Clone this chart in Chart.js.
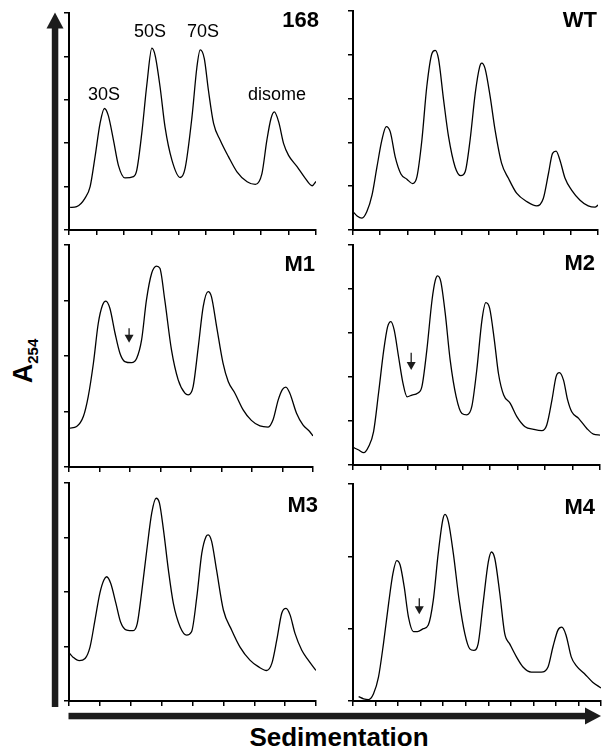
<!DOCTYPE html>
<html>
<head>
<meta charset="utf-8">
<script src="https://cdn.jsdelivr.net/npm/chart.js@4.4.1/dist/chart.umd.min.js"></script>
<style>
  body { margin: 0; background: #fff; }
  #fig { position: relative; width: 603px; height: 749px; overflow: hidden;
         font-family: "Liberation Sans", Arial, sans-serif; color: #000; }
  #fig canvas { position: absolute; }
  .lbl { position: absolute; white-space: nowrap; line-height: 1; }
  .ylab { position: absolute; white-space: nowrap; line-height: 1; font-weight: bold; font-size: 27px;
          transform: translate(-50%, -50%) rotate(-90deg); }
  .ylab span { font-size: 15px; vertical-align: -6px; }
</style>
</head>
<body>
<div id="fig">
  <svg width="603" height="749" style="position:absolute;left:0;top:0">
    <rect x="51.8" y="27" width="6.5" height="680" fill="#1c1c1c"/>
    <polygon points="46.5,28.5 55,12.5 63.5,28.5" fill="#1c1c1c"/>
    <rect x="68.5" y="712.8" width="518" height="6.5" fill="#1c1c1c"/>
    <polygon points="585,707.5 601,716 585,724.5" fill="#1c1c1c"/>
  </svg>
</div>
<script>
// sedimentation position (axis ticks) and A254 (axis ticks)
const x168 = [0.04, 0.28, 0.58, 0.77, 0.95, 1.13, 1.29, 1.43, 1.62, 1.80, 2.04, 2.35, 2.47, 2.65, 2.84, 3.02, 3.14, 3.32, 3.50, 3.75, 4.05, 4.23, 4.48, 4.66, 4.78, 4.93, 5.08, 5.27, 5.51, 5.81, 6.12, 6.49, 6.79, 7.03, 7.21, 7.36, 7.48, 7.64, 7.82, 8.00, 8.31, 8.61, 8.86, 9.0];
const y168 = [0.52, 0.54, 0.73, 1.00, 1.69, 2.45, 2.80, 2.64, 2.07, 1.49, 1.20, 1.23, 1.38, 2.22, 3.37, 4.19, 4.02, 3.29, 2.37, 1.61, 1.21, 1.42, 2.60, 3.75, 4.15, 3.95, 3.22, 2.45, 2.07, 1.69, 1.34, 1.11, 1.05, 1.30, 2.07, 2.57, 2.72, 2.49, 1.99, 1.72, 1.46, 1.19, 1.02, 1.12];

const xWT = [0, 0.15, 0.33, 0.51, 0.70, 0.88, 1.06, 1.22, 1.37, 1.55, 1.76, 1.98, 2.19, 2.35, 2.53, 2.71, 2.90, 3.02, 3.14, 3.33, 3.51, 3.75, 3.96, 4.12, 4.30, 4.49, 4.65, 4.73, 4.85, 5.04, 5.22, 5.46, 5.71, 6.01, 6.38, 6.75, 6.99, 7.18, 7.33, 7.46, 7.60, 7.79, 8.03, 8.34, 8.64, 8.89, 9.0];
const yWT = [0.42, 0.32, 0.27, 0.42, 0.80, 1.44, 2.05, 2.36, 2.24, 1.67, 1.28, 1.16, 1.06, 1.22, 2.05, 3.27, 4.03, 4.10, 3.91, 2.96, 2.13, 1.44, 1.24, 1.33, 2.05, 3.12, 3.72, 3.81, 3.69, 3.04, 2.28, 1.52, 1.18, 0.84, 0.65, 0.55, 0.72, 1.29, 1.75, 1.80, 1.60, 1.18, 0.91, 0.68, 0.55, 0.52, 0.57];

const xM1 = [0.03, 0.25, 0.47, 0.63, 0.80, 0.96, 1.10, 1.21, 1.34, 1.51, 1.67, 1.83, 2.05, 2.22, 2.38, 2.54, 2.71, 2.87, 2.98, 3.14, 3.36, 3.58, 3.80, 3.91, 4.07, 4.24, 4.40, 4.56, 4.67, 4.84, 5.05, 5.22, 5.44, 5.71, 5.98, 6.26, 6.53, 6.69, 6.86, 7.00, 7.11, 7.24, 7.46, 7.67, 7.89, 8.0];
const yM1 = [0.70, 0.73, 0.91, 1.27, 1.87, 2.59, 2.92, 2.99, 2.86, 2.41, 2.05, 1.90, 1.88, 1.96, 2.29, 3.01, 3.49, 3.62, 3.58, 3.01, 2.11, 1.57, 1.33, 1.30, 1.45, 2.17, 2.89, 3.16, 3.07, 2.53, 1.87, 1.54, 1.33, 1.03, 0.84, 0.74, 0.72, 0.85, 1.21, 1.40, 1.44, 1.33, 0.97, 0.76, 0.64, 0.56];

const xM2 = [0, 0.21, 0.39, 0.57, 0.75, 0.93, 1.12, 1.26, 1.38, 1.50, 1.66, 1.82, 1.97, 2.15, 2.35, 2.51, 2.69, 2.88, 3.00, 3.08, 3.20, 3.36, 3.54, 3.76, 3.97, 4.15, 4.33, 4.51, 4.70, 4.84, 4.98, 5.15, 5.30, 5.49, 5.73, 5.97, 6.27, 6.58, 6.88, 7.06, 7.25, 7.40, 7.52, 7.67, 7.82, 7.97, 8.22, 8.52, 8.76, 9.0];
const yM2 = [0.40, 0.34, 0.28, 0.42, 0.76, 1.63, 2.61, 3.14, 3.26, 3.07, 2.46, 1.86, 1.55, 1.59, 1.63, 1.78, 2.61, 3.75, 4.20, 4.30, 4.17, 3.45, 2.39, 1.55, 1.17, 1.14, 1.33, 2.16, 3.30, 3.69, 3.56, 2.84, 2.08, 1.59, 1.40, 1.10, 0.87, 0.81, 0.78, 0.91, 1.48, 2.01, 2.10, 1.93, 1.48, 1.21, 1.06, 0.83, 0.70, 0.68];

const xM3 = [0.01, 0.14, 0.33, 0.52, 0.68, 0.84, 1.00, 1.13, 1.22, 1.35, 1.52, 1.67, 1.87, 2.08, 2.21, 2.35, 2.52, 2.68, 2.82, 2.93, 3.06, 3.22, 3.38, 3.60, 3.81, 3.97, 4.14, 4.30, 4.44, 4.51, 4.62, 4.78, 5.00, 5.27, 5.54, 5.86, 6.13, 6.40, 6.57, 6.73, 6.89, 7.03, 7.16, 7.32, 7.54, 7.75, 8.0];
const yM3 = [0.88, 0.80, 0.74, 0.78, 0.99, 1.48, 1.98, 2.22, 2.28, 2.16, 1.79, 1.45, 1.30, 1.29, 1.42, 1.98, 2.77, 3.45, 3.72, 3.63, 3.14, 2.40, 1.79, 1.36, 1.21, 1.27, 1.91, 2.71, 3.02, 3.05, 2.93, 2.40, 1.67, 1.30, 0.99, 0.75, 0.63, 0.56, 0.69, 1.12, 1.61, 1.70, 1.58, 1.24, 0.93, 0.75, 0.56];

const xM4 = [0.25, 0.47, 0.69, 0.91, 1.13, 1.35, 1.58, 1.77, 1.94, 2.09, 2.27, 2.46, 2.68, 2.86, 3.12, 3.34, 3.56, 3.78, 3.98, 4.08, 4.23, 4.45, 4.71, 4.96, 5.18, 5.36, 5.55, 5.77, 6.00, 6.14, 6.29, 6.51, 6.73, 6.95, 7.25, 7.54, 7.91, 8.35, 8.65, 8.87, 9.09, 9.26, 9.45, 9.68, 9.90, 10.26, 10.63, 11.0];
const yM4 = [0.06, 0.03, 0.02, 0.10, 0.33, 0.79, 1.35, 1.76, 1.94, 1.88, 1.58, 1.16, 0.96, 0.96, 1.00, 1.05, 1.39, 2.04, 2.50, 2.58, 2.48, 2.04, 1.39, 0.93, 0.72, 0.70, 0.79, 1.35, 1.92, 2.06, 1.97, 1.49, 0.93, 0.79, 0.61, 0.47, 0.40, 0.40, 0.47, 0.75, 0.98, 1.02, 0.91, 0.61, 0.49, 0.38, 0.26, 0.18];

// tick counts of each small axis
const xTicks = { p168: 9, WT: 9, M1: 8, M2: 9, M3: 8, M4: 11 };
const yTicks = { p168: 5, WT: 5, M1: 4, M2: 5, M3: 4, M4: 3 };

// small arrows marking the shoulder: [x, yTop, yBottom] in axis units
const shoulderM1 = [1.97, 2.5, 2.24];
const shoulderM2 = [2.12, 2.55, 2.16];
const shoulderM4 = [2.94, 1.42, 1.2];

// plot area of each panel on the page: left, top, right, bottom
const boxes = {
    p168: [69, 13, 316, 230],
    WT: [353, 11, 598, 230],
    M1: [69, 245, 313, 467],
    M2: [353, 245, 600, 465],
    M3: [69, 483, 316, 701],
    M4: [353, 484, 601, 701]
};

const fig = document.getElementById('fig');
const AX = 8, PAD = 4;

const shoulderArrow = {
    id: 'shoulderArrow',
    afterDatasetsDraw(chart, args, opts) {
        if (!opts.at) return;
        const { ctx, scales: { x, y } } = chart;
        const px = x.getPixelForValue(opts.at[0]);
        const top = y.getPixelForValue(opts.at[1]);
        const bot = y.getPixelForValue(opts.at[2]);
        ctx.save();
        ctx.strokeStyle = '#1c1c1c';
        ctx.fillStyle = '#1c1c1c';
        ctx.lineWidth = 1.3;
        ctx.beginPath();
        ctx.moveTo(px, top);
        ctx.lineTo(px, bot - 6);
        ctx.stroke();
        ctx.beginPath();
        ctx.moveTo(px - 4.5, bot - 8);
        ctx.lineTo(px + 4.5, bot - 8);
        ctx.lineTo(px, bot);
        ctx.closePath();
        ctx.fill();
        ctx.restore();
    }
};

function axisOpts(max, horizontal) {
    return {
        type: 'linear', min: 0, max: max,
        ticks: { display: false, stepSize: 1, maxTicksLimit: 20 },
        grid: { drawOnChartArea: false, tickLength: 5, color: '#000', lineWidth: 1.5 },
        border: { color: '#000', width: 2 },
        afterFit(s) { if (horizontal) s.height = AX; else s.width = AX; }
    };
}

function makePanel(key, xs, ys, arrow) {
    const b = boxes[key];
    const c = document.createElement('canvas');
    c.width = b[2] - b[0] + AX + PAD;
    c.height = b[3] - b[1] + AX + PAD;
    c.style.left = (b[0] - AX) + 'px';
    c.style.top = (b[1] - PAD) + 'px';
    fig.appendChild(c);
    return new Chart(c, {
        type: 'line',
        data: {
            datasets: [{
                data: xs.map((x, i) => ({ x: x, y: ys[i] })),
                borderColor: '#000', borderWidth: 1.3,
                pointRadius: 0, cubicInterpolationMode: 'monotone', fill: false
            }]
        },
        options: {
            responsive: false, animation: false, events: [],
            layout: { padding: { left: 0, top: PAD, right: PAD, bottom: 0 }, autoPadding: false },
            plugins: { legend: { display: false }, tooltip: { enabled: false }, shoulderArrow: { at: arrow } },
            scales: { x: axisOpts(xTicks[key], true), y: axisOpts(yTicks[key], false) }
        },
        plugins: [shoulderArrow]
    });
}

makePanel('p168', x168, y168, null);
makePanel('WT', xWT, yWT, null);
makePanel('M1', xM1, yM1, shoulderM1);
makePanel('M2', xM2, yM2, shoulderM2);
makePanel('M3', xM3, yM3, null);
makePanel('M4', xM4, yM4, shoulderM4);

// text, placed by baseline
function addLabel(text, x, baseline, size, bold, align) {
    const d = document.createElement('div');
    d.className = 'lbl';
    d.textContent = text;
    d.style.fontSize = size + 'px';
    d.style.fontWeight = bold ? 'bold' : 'normal';
    d.style.top = (baseline - 0.847 * size) + 'px';
    d.style.left = x + 'px';
    d.style.transform = align === 'right' ? 'translateX(-100%)' : 'translateX(-50%)';
    fig.appendChild(d);
}

addLabel('30S', 104, 100, 18, false, 'center');
addLabel('50S', 150, 37, 18, false, 'center');
addLabel('70S', 203, 37, 18, false, 'center');
addLabel('disome', 277, 100, 18, false, 'center');

addLabel('168', 319, 28, 22, true, 'right');
addLabel('WT', 597, 28, 22, true, 'right');
addLabel('M1', 315, 272, 22, true, 'right');
addLabel('M2', 595, 271, 22, true, 'right');
addLabel('M3', 318, 513, 22, true, 'right');
addLabel('M4', 595, 515, 22, true, 'right');

addLabel('Sedimentation', 339, 746, 26, true, 'center');

const yl = document.createElement('div');
yl.className = 'ylab';
yl.innerHTML = 'A<span>254</span>';
yl.style.left = '25px';
yl.style.top = '361px';
fig.appendChild(yl);
</script>
</body>
</html>
